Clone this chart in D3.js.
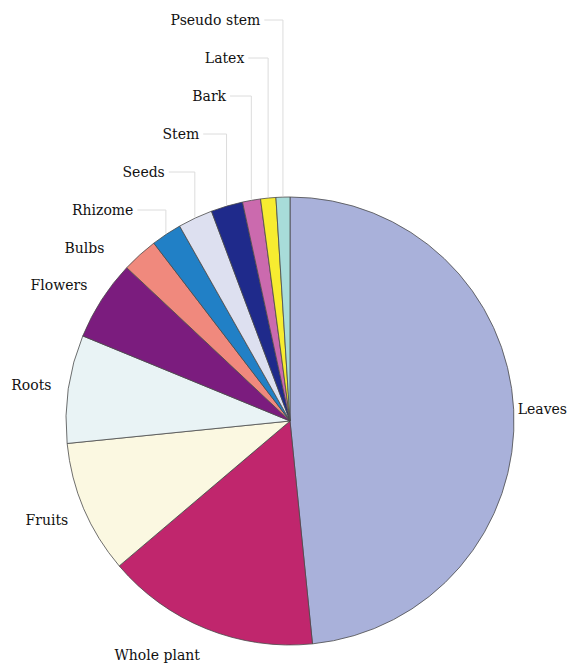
<!DOCTYPE html>
<html>
<head>
<meta charset="utf-8">
<script src="https://cdn.jsdelivr.net/npm/d3@7"></script>
<style>
  body { margin: 0; background: #fff; }
  text { font-family: "DejaVu Serif", serif; font-size: 14px; fill: #111; }
</style>
</head>
<body>
<div id="chart"></div>
<script>
// plant parts, clockwise from 12 o'clock
var parts = ["Leaves", "Whole plant", "Fruits", "Roots", "Flowers", "Bulbs",
             "Rhizome", "Seeds", "Stem", "Bark", "Latex", "Pseudo stem"];
var shares = [48.4, 15.4, 9.6, 7.8, 5.8, 2.6, 2.2, 2.5, 2.3, 1.3, 1.1, 1.0];
var colors = ["#a9b1da", "#c0266d", "#fbf8e1", "#e9f3f5", "#7b1c7e", "#f0897d",
              "#2180c6", "#dde0f0", "#1f2a8b", "#cb6aae", "#f7ec30", "#a8dcd9"];

var width = 568, height = 664;
var cx = 290, cy = 421, r = 224;

var svg = d3.select("#chart").append("svg")
    .attr("width", width)
    .attr("height", height);

var g = svg.append("g").attr("transform", "translate(" + cx + "," + cy + ")");

var pie = d3.pie().sort(null).value(function(d) { return d; });
var arcs = pie(shares);

var arc = d3.arc().innerRadius(0).outerRadius(r);

g.selectAll("path.slice")
    .data(arcs)
    .enter().append("path")
    .attr("class", "slice")
    .attr("d", arc)
    .attr("fill", function(d, i) { return colors[i]; })
    .attr("stroke", "#4a4a4a")
    .attr("stroke-width", 0.8)
    .attr("stroke-linejoin", "round");

function mid(d) { return (d.startAngle + d.endAngle) / 2; }
function px(a, rad) { return Math.sin(a) * rad; }
function py(a, rad) { return -Math.cos(a) * rad; }

// small slices at the top get stacked labels with leader lines
var stackFrom = 5, stackTop = 20 - cy, stackGap = 38;

arcs.forEach(function(d, i) {
  var a = mid(d);
  if (i < stackFrom) {
    var right = px(a, 1) > 0;
    var rx = right ? 228 : 241, ry = right ? 228 : 252;
    g.append("text")
      .attr("x", px(a, rx))
      .attr("y", py(a, ry))
      .attr("dy", "0.35em")
      .attr("text-anchor", right ? "start" : "end")
      .text(parts[i]);
  } else {
    var k = shares.length - 1 - i;          // 0 for the last slice (top of stack)
    var ly = stackTop + k * stackGap;
    var lx = px(a, 244) - 22;
    var ex = px(a, r + 1), ey = py(a, r + 1);
    if (i > stackFrom) {
      g.append("path")
        .attr("d", "M" + ex + "," + ey + "V" + ly + "H" + (lx + 4))
        .attr("fill", "none")
        .attr("stroke", "#dcdcdc")
        .attr("stroke-width", 1);
    }
    g.append("text")
      .attr("x", lx)
      .attr("y", ly)
      .attr("dy", "0.35em")
      .attr("text-anchor", "end")
      .text(parts[i]);
  }
});
</script>
</body>
</html>
